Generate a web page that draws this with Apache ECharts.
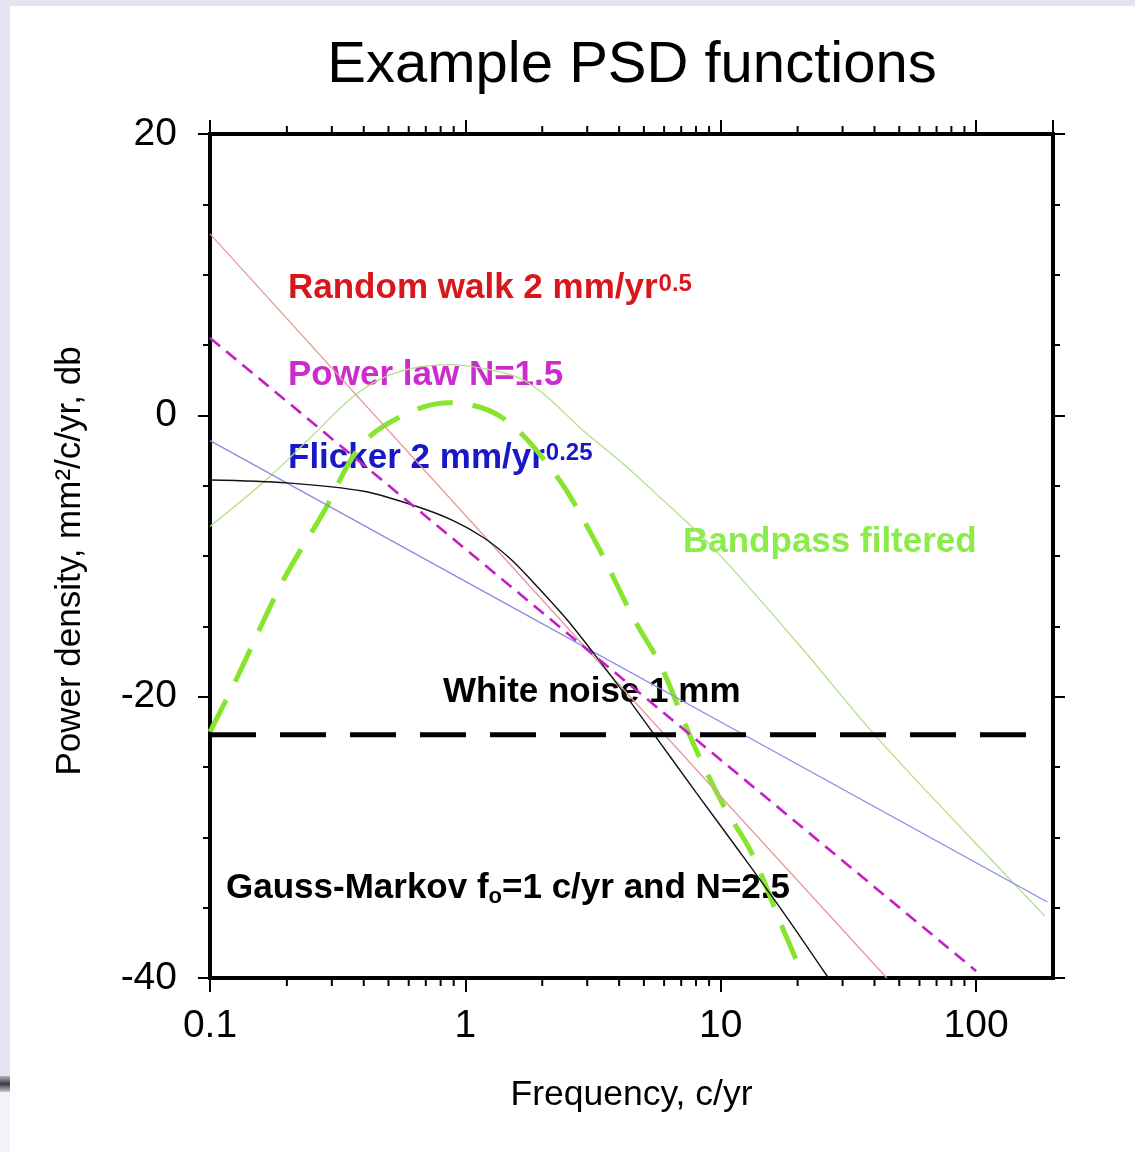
<!DOCTYPE html>
<html><head><meta charset="utf-8">
<script src="https://cdn.jsdelivr.net/npm/echarts@6/dist/echarts.min.js"></script>
<style>
html,body{margin:0;padding:0;width:1135px;height:1152px;overflow:hidden;background:#e3e3f2;}
#panel{position:absolute;left:10px;top:6px;width:1125px;height:1146px;background:#fff;}
#mark{position:absolute;left:0;top:1076px;width:10px;height:16px;background:linear-gradient(#b0b0c0,#3a3a40,#c8c8d0);}
#low{position:absolute;left:0;top:1092px;width:10px;height:60px;background:#f2f2f8;}
#chart{position:absolute;left:0;top:0;width:1135px;height:1152px;}
</style></head><body>
<div id="panel"></div><div id="mark"></div><div id="low"></div>
<div id="chart"></div>
<script>
// ---- data (frequency in c/yr, power density in db) ----
const xTicks = [0.1, 1, 10, 100];
const xMinorTicks = [0.2,0.3,0.4,0.5,0.6,0.7,0.8,0.9, 2,3,4,5,6,7,8,9, 20,30,40,50,60,70,80,90];
const yTicks = [-40, -20, 0, 20];
const xMin = 0.1, xMax = 200;

const rwFreq = [0.1, 1, 10, 44.7];
const rwDb   = [12.9, -7.1, -27.1, -40];

const plFreq = [0.1, 1, 10, 100];
const plDb   = [5.5, -9.5, -24.5, -39.5];

const flFreq = [0.1, 1, 10, 190];
const flDb   = [-1.8, -11.8, -21.8, -34.6];

const wnFreq = [0.1, 190];
const wnDb   = [-22.7, -22.7];

const gmFreq = [0.1, 0.2, 0.4, 0.65, 0.9, 1.18, 1.5, 1.85, 2.52, 3.4, 4.4, 5.49, 8.0, 12.05, 18.0, 26.4];
const gmDb   = [-4.6, -4.8, -5.4, -6.5, -7.5, -8.7, -10.2, -11.9, -14.6, -17.6, -20.3, -22.7, -26.8, -31.2, -35.6, -40];

const bpFreq = [0.1, 0.167, 0.25, 0.38, 0.55, 0.87, 1.2, 1.6, 2.0, 2.9, 4.0, 5.6, 9.2, 20, 40, 80, 186];
const bpDb   = [-7.9, -4.55, -1.5, 1.6, 3.1, 3.6, 3.3, 2.7, 1.6, -1.1, -3.2, -5.6, -9.3, -16.2, -22.7, -28.6, -35.6];

const fbFreq = [0.1, 0.128, 0.194, 0.278, 0.388, 0.557, 0.852, 1.376, 2.22, 3.19, 4.58, 5.84, 7.88, 10.3, 13.2, 17.8, 21.1];
const fbDb   = [-22.5, -18.6, -11.7, -6.9, -2.2, -0.1, 0.9, -0.1, -4.05, -8.8, -14.5, -17.85, -23.5, -27.8, -31.1, -36.8, -39.9];

const FONT = '"Liberation Sans", Arial, Helvetica, sans-serif';
const pair = (xs, ys) => xs.map((x, i) => [x, ys[i]]);

const chart = echarts.init(document.getElementById('chart'), null, {renderer: 'canvas'});

const axisLine = {show: true, onZero: false, lineStyle: {color: '#000', width: 4, cap: 'square'}};
const xLabelFmt = v => {
  for (const t of xTicks) if (Math.abs(v - t) / t < 1e-6) return String(t);
  return '';
};

function lineSeries(name, data, color, width, type, smooth, z) {
  return {
    name, type: 'line', data, symbol: 'none', showSymbol: false, smooth: smooth || false,
    clip: true, z: z || 3, silent: true,
    lineStyle: {color, width, type: type || 'solid'}
  };
}

function richLabel(x, y, main, sup, color, supPad) {
  const base = {fontSize: 35, fontWeight: 'bold', fontFamily: FONT, fill: color, lineHeight: 40, verticalAlign: 'top'};
  const rich = {m: base};
  let text = '{m|' + main + '}';
  if (sup) {
    rich.s = {fontSize: 24, fontWeight: 'bold', fontFamily: FONT, fill: color, lineHeight: 24, padding: [supPad, 0, 0, 1], verticalAlign: 'top'};
    text += '{s|' + sup + '}';
  }
  return {type: 'text', x, y, z: 1, silent: true, style: {text, rich, verticalAlign: 'top', textVerticalAlign: 'top'}};
}

const gmBase = {fontSize: 35, fontWeight: 'bold', fontFamily: FONT, fill: '#000', lineHeight: 40, verticalAlign: 'top'};

const option = {
  animation: false,
  backgroundColor: 'transparent',
  grid: {left: 210, right: 82, top: 134, bottom: 174, containLabel: false},
  xAxis: [
    {
      type: 'log', logBase: 10, min: xMin, max: xMax, position: 'bottom',
      axisLine, splitLine: {show: false},
      axisTick: {show: true, inside: false, length: 14, lineStyle: {color: '#000', width: 2}},
      axisLabel: {show: true, margin: 29, fontSize: 39, color: '#000', fontFamily: FONT, formatter: xLabelFmt, showMaxLabel: false},
      name: 'Frequency, c/yr', nameLocation: 'middle', nameGap: 99,
      nameTextStyle: {fontSize: 35.5, color: '#000', fontFamily: FONT}
    },
    {
      type: 'log', logBase: 10, min: xMin, max: xMax, position: 'top',
      axisLine, splitLine: {show: false},
      axisTick: {show: true, inside: false, length: 14, lineStyle: {color: '#000', width: 2}},
      axisLabel: {show: false}
    }
  ],
  yAxis: [
    {
      type: 'value', min: yTicks[0], max: yTicks[yTicks.length - 1], interval: 20, position: 'left',
      axisLine, splitLine: {show: false},
      axisTick: {show: true, inside: false, length: 12, lineStyle: {color: '#000', width: 2}},
      minorTick: {show: true, splitNumber: 4, length: 7, lineStyle: {color: '#000', width: 2}},
      minorSplitLine: {show: false},
      axisLabel: {show: true, margin: 33, fontSize: 39, color: '#000', fontFamily: FONT},
      name: 'Power density, mm²/c/yr, db', nameLocation: 'middle', nameGap: 122,
      nameTextStyle: {fontSize: 35, color: '#000', fontFamily: FONT, padding: [0, 10, 0, 0]}
    },
    {
      type: 'value', min: yTicks[0], max: yTicks[yTicks.length - 1], interval: 20, position: 'right',
      axisLine, splitLine: {show: false},
      axisTick: {show: true, inside: false, length: 12, lineStyle: {color: '#000', width: 2}},
      minorTick: {show: true, splitNumber: 4, length: 7, lineStyle: {color: '#000', width: 2}},
      minorSplitLine: {show: false},
      axisLabel: {show: false}
    }
  ],
  series: [
    lineSeries('Bandpass filtered (flicker)', pair(fbFreq, fbDb), '#86e52c', 5, [36, 20], 0.35, 3),
    lineSeries('Bandpass filtered', pair(bpFreq, bpDb), '#b2df86', 1.3, 'solid', 0.35, 4),
    lineSeries('Random walk', pair(rwFreq, rwDb), '#e79a9a', 1.3, 'solid', false, 4),
    lineSeries('Flicker', pair(flFreq, flDb), '#8a8ae6', 1.3, 'solid', false, 4),
    lineSeries('Gauss-Markov', pair(gmFreq, gmDb), '#111111', 1.4, 'solid', 0.3, 5),
    lineSeries('Power law', pair(plFreq, plDb), '#c41fc4', 2.6, [13, 8], false, 6),
    lineSeries('White noise', pair(wnFreq, wnDb), '#000000', 5, [46, 24], false, 7),
    {
      name: 'minor ticks', type: 'custom', xAxisIndex: 0, yAxisIndex: 0, silent: true, z: 8, clip: false,
      data: xMinorTicks.map(v => [v, 0]),
      renderItem: (params, api) => {
        const x = api.value(0);
        const b = api.coord([x, yTicks[0]]);
        const t = api.coord([x, yTicks[yTicks.length - 1]]);
        return {type: 'group', children: [
          {type: 'line', shape: {x1: b[0], y1: b[1], x2: b[0], y2: b[1] + 8}, style: {stroke: '#000', lineWidth: 2}},
          {type: 'line', shape: {x1: t[0], y1: t[1], x2: t[0], y2: t[1] - 8}, style: {stroke: '#000', lineWidth: 2}}
        ]};
      }
    }
  ],
  graphic: [
    {type: 'text', x: 632, y: 66, z: 1, silent: true,
     style: {text: 'Example PSD functions', fontSize: 58, fontFamily: FONT, fill: '#000',
             align: 'center', textAlign: 'center', verticalAlign: 'middle', textVerticalAlign: 'middle'}},
    richLabel(288, 271, 'Random walk 2 mm/yr', '0.5', '#d8161c', 1),
    richLabel(288, 358, 'Power law N=1.5', null, '#cc2ccc', 0),
    richLabel(288, 441, 'Flicker 2 mm/yr', '0.25', '#1818c8', 0),
    richLabel(683, 525, 'Bandpass filtered', null, '#8aec48', 0),
    richLabel(443, 675, 'White noise 1 mm', null, '#000', 0),
    {type: 'text', x: 226, y: 871, z: 1, silent: true,
     style: {text: '{m|Gauss-Markov f}{o|o}{m|=1 c/yr and N=2.5}',
             rich: {m: gmBase, o: {fontSize: 22, fontWeight: 'bold', fontFamily: FONT, fill: '#000', lineHeight: 22, padding: [15, 0, 0, 0], verticalAlign: 'top'}},
             verticalAlign: 'top', textVerticalAlign: 'top'}}
  ]
};
chart.setOption(option);
</script></body></html>
